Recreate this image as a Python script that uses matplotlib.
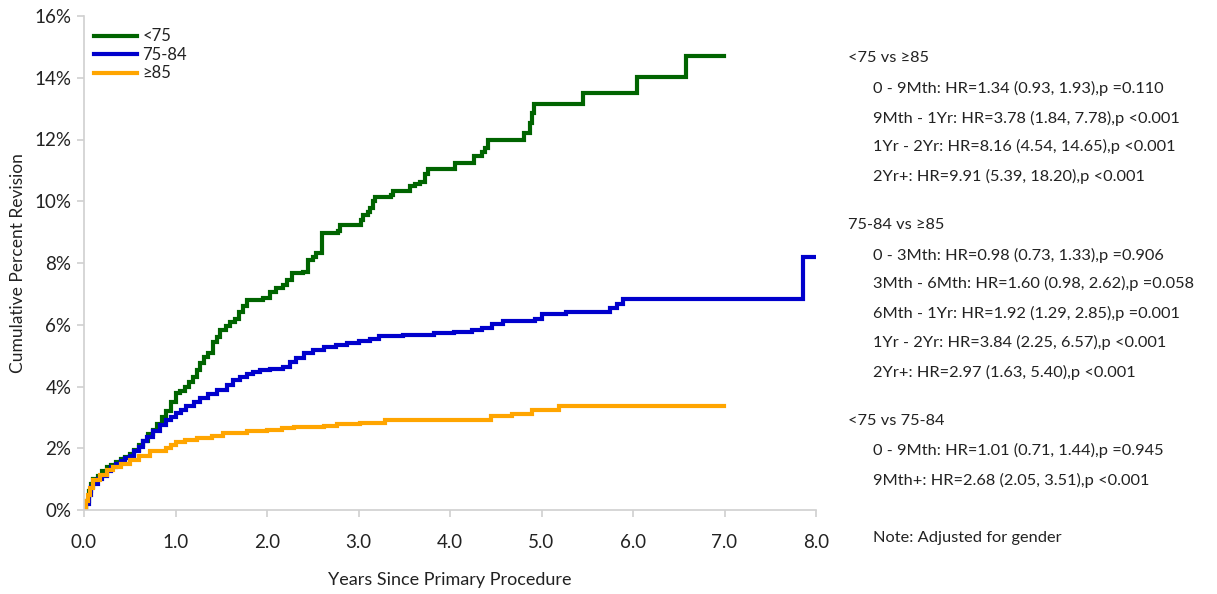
import matplotlib
matplotlib.use("Agg")
import matplotlib.pyplot as plt
from matplotlib.ticker import FuncFormatter

plt.rcParams['font.family'] = ['Lato', 'DejaVu Sans']

# ---- data ----
series_names = ["<75", "75-84", "≥85"]
series_colors = ["#006400", "#0000CC", "#FFA500"]

t_lt75 = [0, 0.02, 0.05, 0.08, 0.1, 0.15, 0.2, 0.25, 0.3, 0.35, 0.4, 0.45, 0.5, 0.55, 0.6, 0.65,
          0.7, 0.75, 0.8, 0.85, 0.9, 0.95, 1.0, 1.05, 1.1, 1.15, 1.19, 1.23, 1.27, 1.31, 1.35, 1.41,
          1.45, 1.49, 1.55, 1.6, 1.65, 1.69, 1.74, 1.78, 1.96, 2.03, 2.1, 2.18, 2.22, 2.27, 2.39,
          2.45, 2.5, 2.54, 2.6, 2.78, 2.8, 3.03, 3.05, 3.1, 3.13, 3.16, 3.18, 3.36, 3.38, 3.56,
          3.62, 3.67, 3.73, 3.76, 4.05, 4.26, 4.35, 4.38, 4.41, 4.81, 4.87, 4.9, 4.92, 5.45,
          6.04, 6.58, 6.99]
v_lt75 = [0, 0.3, 0.6, 0.85, 1.0, 1.1, 1.25, 1.4, 1.45, 1.55, 1.65, 1.72, 1.8, 1.95, 2.1, 2.25,
          2.45, 2.6, 2.8, 3.0, 3.2, 3.5, 3.8, 3.85, 4.0, 4.15, 4.3, 4.55, 4.76, 4.95, 5.1, 5.45,
          5.6, 5.83, 5.95, 6.1, 6.2, 6.4, 6.6, 6.8, 6.86, 7.07, 7.2, 7.29, 7.45, 7.67, 7.72,
          8.1, 8.2, 8.31, 8.96, 9.05, 9.23, 9.4, 9.55, 9.65, 9.77, 10.0, 10.13, 10.2, 10.33, 10.49,
          10.55, 10.63, 10.88, 11.05, 11.25, 11.48, 11.6, 11.71, 11.98, 12.22, 12.52, 12.85, 13.15, 13.52,
          14.01, 14.7, 14.7]

t_75_84 = [0, 0.02, 0.05, 0.08, 0.1, 0.15, 0.2, 0.25, 0.3, 0.35, 0.4, 0.45, 0.5, 0.55, 0.6, 0.65,
           0.69, 0.75, 0.83, 0.9, 0.95, 1.01, 1.06, 1.12, 1.2, 1.27, 1.35, 1.45, 1.56, 1.63, 1.7,
           1.78, 1.85, 1.92, 2.03, 2.18, 2.25, 2.32, 2.4, 2.5, 2.62, 2.75, 2.87, 3.0, 3.13, 3.22,
           3.49, 3.82, 4.04, 4.24, 4.35, 4.46, 4.58, 4.93, 5.0, 5.27, 5.75, 5.82, 5.89, 7.86, 7.99]
v_75_84 = [0, 0.2, 0.5, 0.75, 0.85, 1.0, 1.1, 1.25, 1.4, 1.5, 1.6, 1.68, 1.75, 1.9, 2.05, 2.25,
           2.37, 2.55, 2.75, 2.9, 3.0, 3.13, 3.25, 3.37, 3.5, 3.62, 3.75, 3.89, 4.05, 4.2, 4.32,
           4.4, 4.48, 4.55, 4.58, 4.64, 4.78, 4.92, 5.07, 5.18, 5.29, 5.36, 5.42, 5.48, 5.53, 5.64,
           5.67, 5.74, 5.78, 5.82, 5.9, 6.01, 6.13, 6.2, 6.34, 6.42, 6.53, 6.67, 6.82, 8.18, 8.18]

t_ge85 = [0, 0.02, 0.04, 0.066, 0.1, 0.175, 0.25, 0.32, 0.4, 0.5, 0.6, 0.72, 0.9, 0.95, 1.01,
          1.1, 1.23, 1.4, 1.52, 1.78, 2.0, 2.16, 2.3, 2.62, 2.76, 3.02, 3.29, 4.45, 4.68, 4.9,
          5.19, 6.99]
v_ge85 = [0, 0.3, 0.5, 0.7, 0.97, 1.13, 1.28, 1.4, 1.5, 1.62, 1.75, 1.91, 2.0, 2.1, 2.21,
          2.27, 2.32, 2.4, 2.48, 2.56, 2.6, 2.66, 2.7, 2.72, 2.79, 2.83, 2.93, 3.03, 3.12, 3.24,
          3.38, 3.38]

x_ticks = [0, 1, 2, 3, 4, 5, 6, 7, 8]
y_ticks = [0, 2, 4, 6, 8, 10, 12, 14, 16]

annot_lines = [
    ("<75 vs ≥85", 0),
    ("0 - 9Mth: HR=1.34 (0.93, 1.93),p =0.110", 1),
    ("9Mth - 1Yr: HR=3.78 (1.84, 7.78),p <0.001", 1),
    ("1Yr - 2Yr: HR=8.16 (4.54, 14.65),p <0.001", 1),
    ("2Yr+: HR=9.91 (5.39, 18.20),p <0.001", 1),
    ("75-84 vs ≥85", 0),
    ("0 - 3Mth: HR=0.98 (0.73, 1.33),p =0.906", 1),
    ("3Mth - 6Mth: HR=1.60 (0.98, 2.62),p =0.058", 1),
    ("6Mth - 1Yr: HR=1.92 (1.29, 2.85),p =0.001", 1),
    ("1Yr - 2Yr: HR=3.84 (2.25, 6.57),p <0.001", 1),
    ("2Yr+: HR=2.97 (1.63, 5.40),p <0.001", 1),
    ("<75 vs 75-84", 0),
    ("0 - 9Mth: HR=1.01 (0.71, 1.44),p =0.945", 1),
    ("9Mth+: HR=2.68 (2.05, 3.51),p <0.001", 1),
    ("Note: Adjusted for gender", 1),
]
annot_y_px = [58, 88, 118, 146, 176, 225, 255, 283, 313, 342, 372, 421, 450, 480, 538]

# ---- figure ----
W, H = 1217, 594
fig = plt.figure(figsize=(W / 100, H / 100), dpi=100)
ax = fig.add_axes([84 / W, 1 - 510 / H, (816 - 84) / W, (510 - 16) / H])

for t, v, name, c in zip([t_lt75, t_75_84, t_ge85], [v_lt75, v_75_84, v_ge85],
                         series_names, series_colors):
    ax.step(t, v, where='post', color=c, lw=3.0, label=name, solid_joinstyle='miter')

ax.set_xlim(0, 8)
ax.set_ylim(0, 16)
ax.set_xticks(x_ticks)
ax.set_yticks(y_ticks)
ax.xaxis.set_major_formatter(FuncFormatter(lambda x, p: f"{x:.1f}"))
ax.yaxis.set_major_formatter(FuncFormatter(lambda y, p: f"{y:.0f}%"))
for s in ['top', 'right']:
    ax.spines[s].set_visible(False)
for s in ['left', 'bottom']:
    ax.spines[s].set_color('#D0D0D0')
    ax.spines[s].set_linewidth(1.2)
ax.tick_params(axis='both', colors='#D0D0D0', labelcolor='#222222', labelsize=13.5,
               length=5, width=1.2)
ax.tick_params(axis='x', pad=12)
ax.tick_params(axis='y', pad=4)

ax.set_ylabel("Cumulative Percent Revision", fontsize=12.5, color='#222222')
ax.yaxis.set_label_coords(-(84 - 26) / 732, 0.5)
fig.text(450 / W, 1 - 580 / H, "Years Since Primary Procedure", fontsize=13,
         color='#222222', ha='center', va='center')

leg = ax.legend(loc='upper left', bbox_to_anchor=(0.0, 0.995), frameon=False,
                fontsize=12, handlelength=2.6, handletextpad=0.3, labelspacing=0.15,
                borderaxespad=0.2)
for txt in leg.get_texts():
    txt.set_color('#222222')

for (txt, ind), ypx in zip(annot_lines, annot_y_px):
    xpx = 848 if ind == 0 else 873
    fig.text(xpx / W, 1 - ypx / H, txt, fontsize=11.8, color='#222222',
             ha='left', va='center')

fig.savefig("out.png", dpi=100)
